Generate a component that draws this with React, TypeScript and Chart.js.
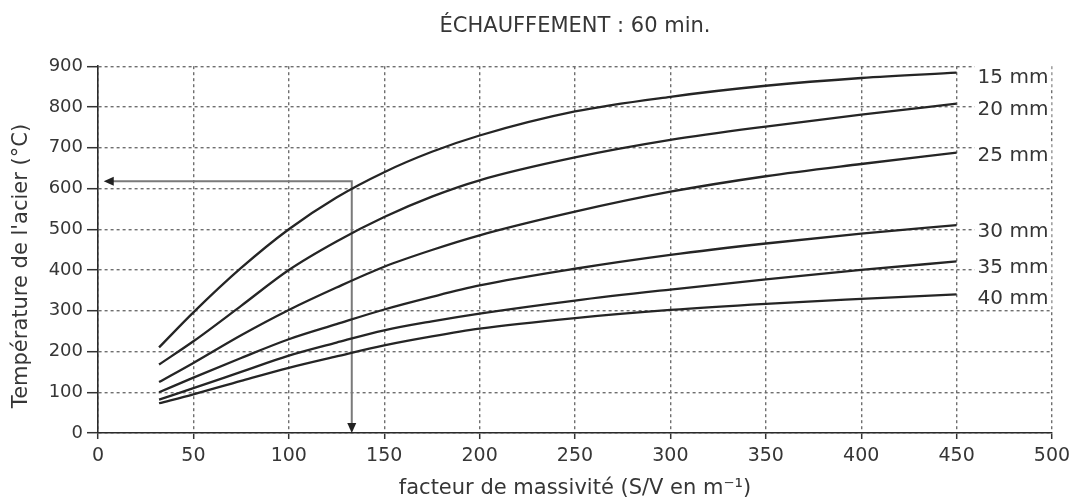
import React, { useEffect, useRef } from "react";
import { Chart, registerables } from "chart.js";

Chart.register(...registerables);

// ---- Data ----
const xValues = [32, 50, 75, 100, 125, 150, 175, 200, 250, 300, 350, 400, 450];
const t15 = [210, 296, 405, 500, 578, 640, 690, 730, 789, 825, 852, 871, 884];
const t20 = [168, 225, 312, 400, 470, 530, 580, 620, 676, 719, 752, 781, 808];
const t25 = [125, 172, 240, 302, 357, 408, 449, 485, 543, 592, 630, 660, 688];
const t30 = [100, 136, 184, 230, 267, 303, 334, 362, 403, 437, 465, 489, 510];
const t35 = [82, 110, 150, 190, 222, 252, 274, 293, 325, 352, 377, 400, 421];
const t40 = [73, 95, 128, 160, 188, 215, 237, 256, 282, 302, 317, 329, 340];
const seriesNames = ["15 mm", "20 mm", "25 mm", "30 mm", "35 mm", "40 mm"];
const seriesValues = [t15, t20, t25, t30, t35, t40];
const labelYValues = [875, 795, 682, 497, 407, 332];
const labelXValue = 461;
const arrowStart = { x: 133, y: 618 };
const arrowTipLeft = { x: 3, y: 618 };
const arrowTipDown = { x: 133, y: 0 };

const chartTitle = "ÉCHAUFFEMENT : 60 min.";
const xTitle = "facteur de massivité (S/V en m⁻¹)";
const yTitle = "Température de l'acier (°C)";
const xMin = 0, xMax = 500, xStep = 50;
const yMin = 0, yMax = 900, yStep = 100;

const FONT = "'DejaVu Sans', 'Liberation Sans', sans-serif";
const TEXT = "#363636";
const LINE = "#252525";
const GRID = "#6f6f6f";

function drawHead(ctx: CanvasRenderingContext2D, x: number, y: number, angle: number) {
  const len = 10, half = 4.5;
  ctx.save();
  ctx.translate(x, y);
  ctx.rotate(angle);
  ctx.beginPath();
  ctx.moveTo(0, 0);
  ctx.lineTo(-len, -half);
  ctx.lineTo(-len, half);
  ctx.closePath();
  ctx.fillStyle = "#222";
  ctx.fill();
  ctx.restore();
}

const overlay = {
  id: "overlay",
  beforeDatasetsDraw(chart: any) {
    const { ctx, scales } = chart;
    const xs = scales.x, ys = scales.y;
    const sx = xs.getPixelForValue(arrowStart.x);
    const sy = ys.getPixelForValue(arrowStart.y);
    const lx = xs.getPixelForValue(arrowTipLeft.x);
    const dy = ys.getPixelForValue(arrowTipDown.y);
    ctx.save();
    ctx.strokeStyle = "#7a7a7a";
    ctx.lineWidth = 2;
    ctx.beginPath();
    ctx.moveTo(lx + 8, sy);
    ctx.lineTo(sx, sy);
    ctx.lineTo(sx, dy - 8);
    ctx.stroke();
    ctx.restore();
    drawHead(ctx, lx, sy, Math.PI);
    drawHead(ctx, sx, dy, Math.PI / 2);
  },
  afterDatasetsDraw(chart: any) {
    const { ctx, scales } = chart;
    ctx.save();
    ctx.font = `20px ${FONT}`;
    ctx.textAlign = "left";
    ctx.textBaseline = "middle";
    seriesNames.forEach((name, i) => {
      const x = scales.x.getPixelForValue(labelXValue);
      const y = scales.y.getPixelForValue(labelYValues[i]);
      const w = ctx.measureText(name).width;
      ctx.fillStyle = "#ffffff";
      ctx.fillRect(x - 3, y - 11, w + 6, 22);
      ctx.fillStyle = TEXT;
      ctx.fillText(name, x, y + 1);
    });
    ctx.restore();
  },
  afterDraw(chart: any) {
    const { ctx } = chart;
    ctx.save();
    ctx.translate(22, 266);
    ctx.rotate(-Math.PI / 2);
    ctx.font = `21px ${FONT}`;
    ctx.fillStyle = TEXT;
    ctx.textAlign = "center";
    ctx.textBaseline = "middle";
    ctx.fillText(yTitle, 0, 0);
    ctx.restore();
  },
};

export default function App() {
  const ref = useRef<HTMLCanvasElement | null>(null);

  useEffect(() => {
    if (!ref.current) return;
    const datasets = seriesValues.map((vals, i) => ({
      label: seriesNames[i],
      data: xValues.map((x, j) => ({ x, y: vals[j] })),
      borderColor: LINE,
      backgroundColor: LINE,
      borderWidth: 2.3,
      pointRadius: 0,
      cubicInterpolationMode: "monotone" as const,
      fill: false,
    }));

    const chart = new Chart(ref.current, {
      type: "line",
      data: { datasets },
      options: {
        animation: false,
        responsive: true,
        maintainAspectRatio: false,
        layout: { padding: { left: 0, right: 26, top: 0, bottom: 0 } },
        plugins: {
          legend: { display: false },
          tooltip: { enabled: false },
          title: {
            display: true,
            text: chartTitle,
            fullSize: false,
            color: TEXT,
            font: { family: FONT, size: 21, weight: "normal" },
            padding: { top: 14, bottom: 27 },
          },
        },
        scales: {
          x: {
            type: "linear",
            min: xMin,
            max: xMax,
            afterFit: (s: any) => { s.height = 71; },
            ticks: {
              stepSize: xStep,
              color: TEXT,
              font: { family: FONT, size: 19 },
              padding: 6,
              maxRotation: 0,
            },
            grid: { color: GRID, lineWidth: 1.4, tickLength: 6, tickColor: "#333", tickWidth: 1.5 },
            border: { display: true, color: "#2a2a2a", width: 1.6, dash: [3, 3] },
            title: {
              display: true,
              text: xTitle,
              color: TEXT,
              font: { family: FONT, size: 21 },
              padding: { top: 0, bottom: 3 },
            },
          },
          y: {
            type: "linear",
            min: yMin,
            max: yMax,
            afterFit: (s: any) => { s.width = 98; },
            ticks: {
              stepSize: yStep,
              color: TEXT,
              font: { family: FONT, size: 18 },
              padding: 4,
            },
            grid: { color: GRID, lineWidth: 1.4, tickLength: 11, tickColor: "#333", tickWidth: 1.5 },
            border: { display: true, color: "#2a2a2a", width: 1.6, dash: [3, 3] },
          },
        },
      },
      plugins: [overlay],
    });
    return () => chart.destroy();
  }, []);

  return (
    <div style={{ position: "absolute", left: 0, top: 0, width: 1078, height: 504, background: "#fff" }}>
      <canvas ref={ref} />
    </div>
  );
}
